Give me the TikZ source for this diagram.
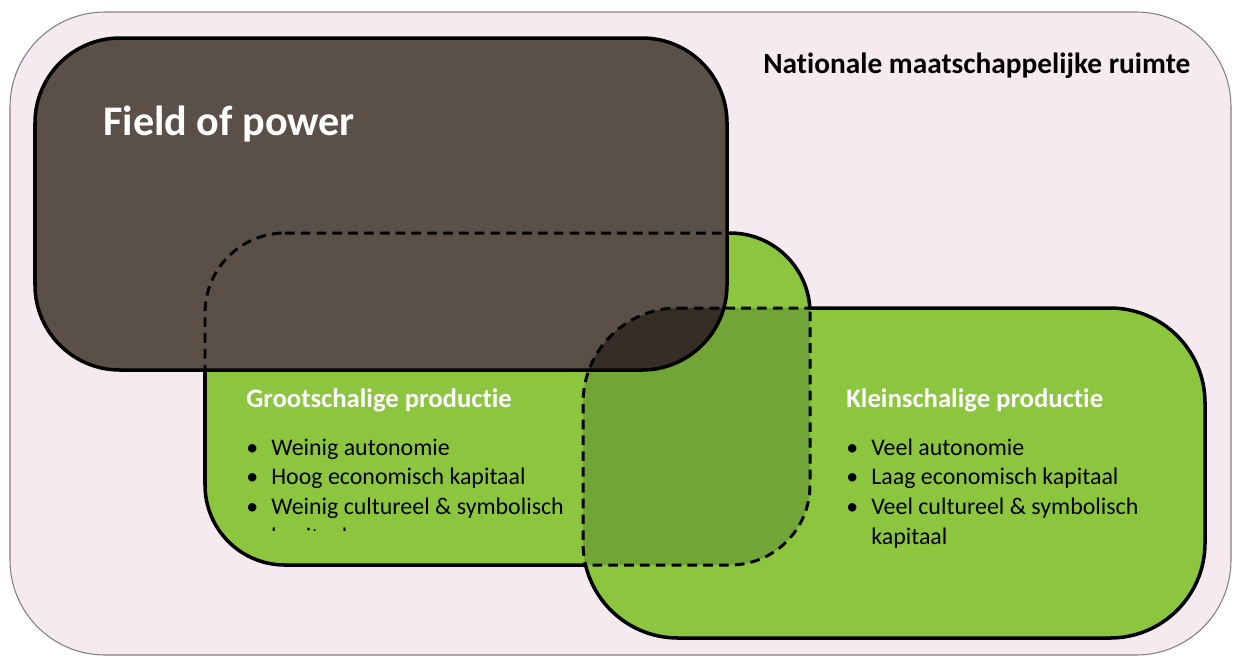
\documentclass[tikz,border=0pt]{standalone}
\usepackage{fontspec}
\setmainfont[Ligatures={NoCommon}]{Carlito}
\usepackage{tikz}
\definecolor{kleurruimte}{HTML}{F5EAF0}
\definecolor{kleurgroen}{HTML}{8CC63F}
\definecolor{kleurdonkergroen}{HTML}{71A535}
\definecolor{kleurmacht}{HTML}{5A5048}
\definecolor{kleurdonker}{HTML}{362D26}
\newcommand{\itm}{\makebox[0.5cm][l]{\textbullet}}

\begin{document}
\begin{tikzpicture}[x=0.02cm, y=-0.02cm,
        rand/.style={line width=2pt},
        streep/.style={line width=1.7pt, dash pattern=on 5.5pt off 3.5pt},
        kop/.style={anchor=base west, inner sep=0pt, text=white, font=\fontsize{15.2}{18}\selectfont\bfseries},
        lijst/.style={anchor=base west, inner sep=0pt, text=black, font=\fontsize{13.6}{17}\selectfont},
        buiten/.style={insert path={[sharp corners] (0,0) -- (0,657) -- (1233,657) -- (1233,0) -- cycle}},
        veld/.style={insert path={[rounded corners=1.7cm] (35,38) -- (727,38) -- (727,370) -- (35,370) -- cycle}},
        groot/.style={insert path={[rounded corners=1.6cm] (205,233) -- (810,233) -- (810,565) -- (205,565) -- cycle}},
        klein/.style={insert path={[rounded corners=1.9cm] (583,308) -- (1205,308) -- (1205,638) -- (583,638) -- cycle}}]
            \useasboundingbox (0,0) rectangle (1233,657);
            \draw[fill=kleurruimte, draw=gray, line width=0.6pt, rounded corners=1.9cm] (10,12) rectangle (1231,655);
            \node[anchor=base west, inner sep=0pt, font=\fontsize{16.7}{20}\selectfont\bfseries] (ruimte) at (763,73) {Nationale maatschappelijke ruimte};

            % vlakken
            \fill[kleurgroen, groot];
            \fill[kleurgroen, klein];
            \begin{scope}
                \clip[groot];
                \fill[kleurdonkergroen, klein];
            \end{scope}
            \fill[kleurmacht, veld];
            \begin{scope}
                \clip[veld];
                \clip[klein];
                \fill[kleurdonker, groot];
            \end{scope}

            % randen
            \begin{scope}
                \clip[buiten, veld];
                \clip[buiten, klein];
                \draw[rand, groot];
            \end{scope}
            \foreach \s in {veld, klein}
            {
                \begin{scope}
                    \clip[\s];
                    \draw[streep, groot];
                \end{scope}
            }
            \begin{scope}
                \clip[buiten, groot];
                \clip[buiten, veld];
                \draw[rand, klein];
            \end{scope}
            \begin{scope}
                \clip[groot];
                \draw[streep, klein];
            \end{scope}
            \draw[rand, veld];

            \node[anchor=base west, inner sep=0pt, text=white, font=\fontsize{24}{28}\selectfont\bfseries] (macht) at (103,135) {Field of power};

            \node[kop] (grootkop) at (246,407) {Grootschalige productie};
            \begin{scope}
                \clip (200,233) rectangle (820,530);
                \node[lijst] (grootlijst) at (246,455) {\begin{tabular}[t]{@{}l@{}}
                    \itm Weinig autonomie\\
                    \itm Hoog economisch kapitaal\\
                    \itm Weinig cultureel \& symbolisch\\
                    \hspace{0.5cm}kapitaal
                \end{tabular}};
            \end{scope}

            \node[kop] (kleinkop) at (846,407) {Kleinschalige productie};
            \node[lijst] (kleinlijst) at (846,455) {\begin{tabular}[t]{@{}l@{}}
                \itm Veel autonomie\\
                \itm Laag economisch kapitaal\\
                \itm Veel cultureel \& symbolisch\\
                \hspace{0.5cm}kapitaal
            \end{tabular}};
        \end{tikzpicture}
\end{document}
